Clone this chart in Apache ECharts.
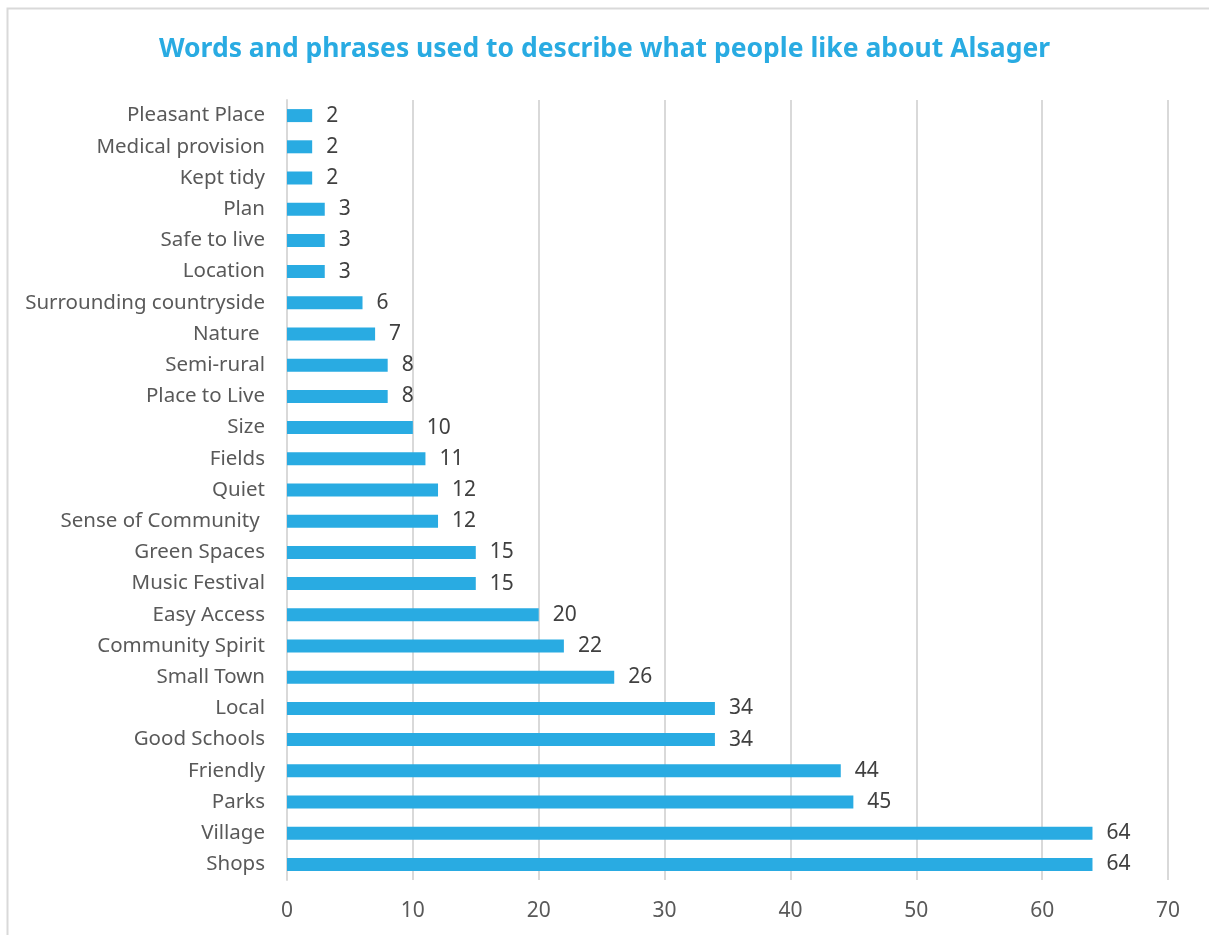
<!DOCTYPE html>
<html style="height: 100%">
   <head>
       <meta charset="utf-8">
   </head>
   <body style="height: 100%; margin: 0; background: #fff">
       <div id="container" style="width: 1209px; height: 935px"></div>
       <script type="text/javascript" src="https://cdn.jsdelivr.net/npm/echarts@6/dist/echarts.min.js"></script>
       <script type="text/javascript">
// categories bottom -> top
var words = ['Shops', 'Village', 'Parks', 'Friendly', 'Good Schools', 'Local', 'Small Town',
    'Community Spirit', 'Easy Access', 'Music Festival', 'Green Spaces', 'Sense of Community ',
    'Quiet', 'Fields', 'Size', 'Place to Live', 'Semi-rural', 'Nature ', 'Surrounding countryside',
    'Location', 'Safe to live', 'Plan', 'Kept tidy', 'Medical provision', 'Pleasant Place'];
var counts = [64, 64, 45, 44, 34, 34, 26, 22, 20, 15, 15, 12, 12, 11, 10, 8, 8, 7, 6, 3, 3, 3, 2, 2, 2];

var dom = document.getElementById("container");
var myChart = echarts.init(dom);
var font = 'Noto Sans';

var option = {
    animation: false,
    backgroundColor: '#fff',
    title: {
        text: 'Words and phrases used to describe what people like about Alsager',
        left: 'center',
        top: 31,
        textStyle: {
            color: '#29abe2',
            fontSize: 26.5,
            fontWeight: 'bold',
            fontFamily: font
        }
    },
    graphic: [{
        type: 'rect',
        shape: { x: 7.5, y: 8.5, width: 1400, height: 1100 },
        style: { fill: null, stroke: '#d9d9d9', lineWidth: 2 },
        silent: true
    }],
    grid: {
        left: 287,
        right: 41,
        top: 100,
        bottom: 55
    },
    xAxis: {
        type: 'value',
        min: 0,
        max: 70,
        interval: 10,
        axisLine: { show: false },
        axisTick: { show: false },
        splitLine: { lineStyle: { color: '#d9d9d9', width: 2 } },
        axisLabel: {
            color: '#595959',
            fontSize: 21,
            fontFamily: font,
            margin: 21
        }
    },
    yAxis: {
        type: 'category',
        data: words,
        axisLine: { lineStyle: { color: '#d9d9d9', width: 2 } },
        axisTick: { show: false },
        axisLabel: {
            color: '#595959',
            fontSize: 20.5,
            fontFamily: font,
            margin: 22
        }
    },
    series: [{
        type: 'bar',
        data: counts,
        barWidth: 13,
        itemStyle: { color: '#29abe2' },
        label: {
            show: true,
            position: 'right',
            distance: 14,
            color: '#404040',
            fontSize: 21,
            fontFamily: font
        }
    }]
};
myChart.setOption(option, true);
       </script>
   </body>
</html>
